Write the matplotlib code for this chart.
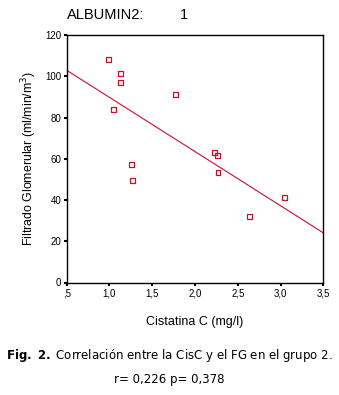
import numpy as np
import matplotlib.pyplot as plt
from matplotlib.ticker import FixedLocator, FixedFormatter

# Cistatina C (mg/l) vs filtrado glomerular, grupo 2
cistatina = [0.99, 1.13, 1.13, 1.05, 1.77, 1.26, 1.27, 2.23, 2.26, 2.27, 2.64, 3.05]
filtrado = [108.0, 101.2, 97.1, 83.8, 91.3, 57.3, 49.5, 63.1, 61.6, 53.2, 32.0, 41.2]

xticks = [0.5, 1.0, 1.5, 2.0, 2.5, 3.0, 3.5]
xticklabels = [",5", "1,0", "1,5", "2,0", "2,5", "3,0", "3,5"]
yticks = [0, 20, 40, 60, 80, 100, 120]

rojo = "#c8102e"

fig = plt.figure(figsize=(3.39, 3.95), dpi=100)
ax = fig.add_axes([66.7 / 339, 1 - 282.5 / 395, 256.6 / 339, 247.5 / 395])

ax.scatter(cistatina, filtrado, marker="s", s=12, facecolors="none",
           edgecolors=rojo, linewidths=0.9, zorder=3)

# recta de regresion
b, a = np.polyfit(cistatina, filtrado, 1)
xr = np.array([0.5, 3.5])
ax.plot(xr, a + b * xr, color=rojo, lw=0.8)

ax.set_xlim(0.5, 3.5)
ax.set_ylim(0, 120)
ax.xaxis.set_major_locator(FixedLocator(xticks))
ax.xaxis.set_major_formatter(FixedFormatter(xticklabels))
ax.set_yticks(yticks)
ax.tick_params(direction="out", length=2, width=1.5, labelsize=7,
               colors="black", pad=2)
for sp in ax.spines.values():
    sp.set_linewidth(1.0)

ff = "Liberation Sans"
for lbl in ax.get_xticklabels() + ax.get_yticklabels():
    lbl.set_family(ff)

ax.set_ylabel("Filtrado Glomerular (ml/min/m$^3$)", family=ff, fontsize=8.9,
              labelpad=4)
ax.set_xlabel("Cistatina C (mg/l)", family=ff, fontsize=9, labelpad=13)

fig.text(67 / 339, 1 - 15 / 395, "ALBUMIN2:", family=ff, fontsize=10.5,
         va="center", ha="left")
fig.text(184 / 339, 1 - 15 / 395, "1", family=ff, fontsize=10.5,
         va="center", ha="center")

fig.text(0.5, 1 - 355 / 395, r"$\bf{Fig.\ 2.}$ Correlación entre la CisC y el FG en el grupo 2.",
         family="DejaVu Sans", fontsize=8.5, ha="center", va="center")
fig.text(0.5, 1 - 379 / 395, "r= 0,226 p= 0,378", family="DejaVu Sans",
         fontsize=8.5, ha="center", va="center")

fig.savefig("out.png", dpi=100)
